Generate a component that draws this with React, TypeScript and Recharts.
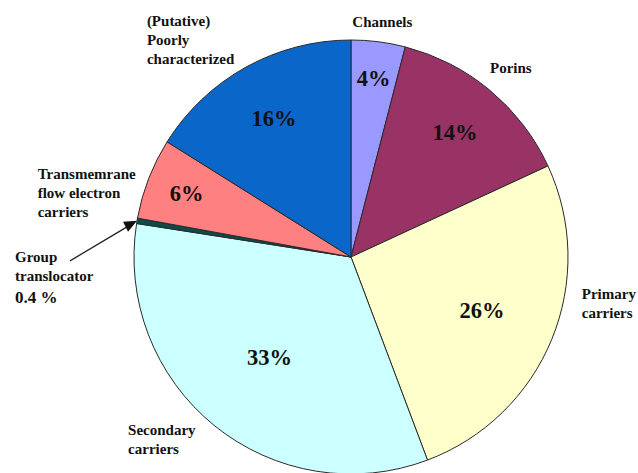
import React from "react";
import { Cell, Pie, PieChart } from "recharts";

const categories = [
  "Channels",
  "Porins",
  "Primary\ncarriers",
  "Secondary\ncarriers",
  "Group\ntranslocator",
  "Transmemrane\nflow electron\ncarriers",
  "(Putative)\nPoorly\ncharacterized",
];
const shares = [4, 14, 26, 33, 0.4, 6, 16];
const sliceColors = ["#9999ff", "#993366", "#ffffcc", "#ccffff", "#0e4a4a", "#ff8080", "#0a66c8"];

const data = categories.map((name, i) => ({ name, value: shares[i] }));

const RADIAN = Math.PI / 180;
const FONT = "Liberation Serif, Times New Roman, serif";
const LINE = 19;

// where each name block sits relative to the slice's outer edge point
const nameNudge: { dx: number; dy: number; anchor: "start" | "middle" | "end" }[] = [
  { dx: 4, dy: -20, anchor: "middle" },
  { dx: 0, dy: -22, anchor: "start" },
  { dx: 30, dy: -36, anchor: "start" },
  { dx: -86, dy: 14, anchor: "start" },
  { dx: -122, dy: 36, anchor: "start" },
  { dx: -111, dy: 14, anchor: "start" },
  { dx: -99, dy: -27, anchor: "start" },
];

const textStyle = { fontFamily: FONT, fontWeight: 700 };

const renderLabel = (props: any) => {
  const { cx, cy, midAngle, outerRadius, index, value, name } = props;
  const cos = Math.cos(-midAngle * RADIAN);
  const sin = Math.sin(-midAngle * RADIAN);
  const ex = cx + outerRadius * cos;
  const ey = cy + outerRadius * sin;
  const lines: string[] = String(name).split("\n");
  const nudge = nameNudge[index];
  const bx = ex + nudge.dx;
  const by = ey + nudge.dy;
  const isGroup = index === 4;
  const firstY = isGroup ? by : by - ((lines.length - 1) * LINE) / 2;

  const inner = outerRadius * (0.86 - (0.8 * value) / 100);
  const px = cx + inner * cos;
  const py = cy + inner * sin;

  return (
    <g key={`lbl-${index}`}>
      {!isGroup && (
        <text
          x={px}
          y={py}
          textAnchor="middle"
          dominantBaseline="central"
          style={{ ...textStyle, fontSize: 22.5 }}
          fill="#111"
        >
          {`${value}%`}
        </text>
      )}
      <text
        x={bx}
        y={firstY}
        textAnchor={nudge.anchor}
        dominantBaseline="central"
        style={{ ...textStyle, fontSize: 15 }}
        fill="#111"
      >
        {lines.map((l, i) => (
          <tspan key={i} x={bx} dy={i === 0 ? 0 : LINE}>
            {l}
          </tspan>
        ))}
      </text>
      {isGroup && (
        <>
          <text
            x={bx}
            y={firstY + 2 * LINE + 3}
            dominantBaseline="central"
            style={{ ...textStyle, fontSize: 17 }}
            fill="#111"
          >
            {`${value} %`}
          </text>
          <line x1={bx + 55} y1={firstY + 4} x2={ex - 10} y2={ey + 6} stroke="#222" strokeWidth={1.3} />
          <polygon
            points={`${ex},${ey} ${ex - 14},${ey + 1} ${ex - 9},${ey + 11}`}
            fill="#111"
          />
        </>
      )}
    </g>
  );
};

export default function App() {
  return (
    <div style={{ position: "absolute", left: 0, top: 0, background: "#fff" }}>
      <PieChart width={638} height={473} margin={{ top: 0, right: 0, bottom: 0, left: 0 }}>
        <Pie
          data={data}
          dataKey="value"
          nameKey="name"
          cx={351}
          cy={257}
          outerRadius={217}
          startAngle={90}
          endAngle={-270}
          stroke="#2a2a2a"
          strokeWidth={1}
          label={renderLabel}
          labelLine={false}
          isAnimationActive={false}
        >
          {data.map((d, i) => (
            <Cell key={d.name} fill={sliceColors[i]} />
          ))}
        </Pie>
      </PieChart>
    </div>
  );
}
